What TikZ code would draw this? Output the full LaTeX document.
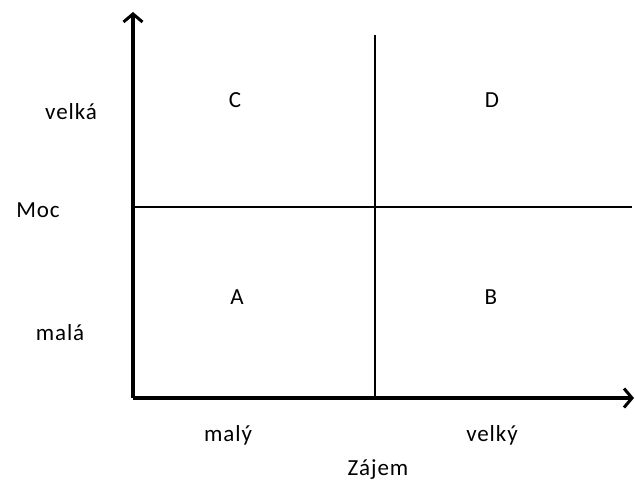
\documentclass[tikz,border=0pt]{standalone}
\usepackage{fontspec}
\setmainfont{Carlito}[LetterSpace=4]
\usetikzlibrary{arrows.meta,positioning}

\begin{document}
\begin{tikzpicture}[
  x=1pt,y=-1pt,
  font=\fontsize{23}{25}\selectfont,
  axis/.style={line width=3.5pt,-{Straight Barb[length=8pt,width=19pt,line width=3pt]}},
  divider/.style={line width=1.5pt},
  lbl/.style={inner sep=0pt,anchor=center},
]
  \useasboundingbox (0,0) rectangle (635,488);

  % axes
  \coordinate (o) at (133,398);
  \coordinate (ytop) at (133,12);
  \coordinate (xend) at (634,398);
  \draw[axis] (o) -- (ytop);
  \draw[axis] (o) -- (xend);

  % quadrant dividers
  \coordinate (vtop) at (375,35);
  \coordinate (vbot) at (375,398);
  \coordinate (hleft) at (133,207);
  \coordinate (hright) at (632,207);
  \draw[divider] (vtop) -- (vbot);
  \draw[divider] (hleft) -- (hright);

  % quadrant labels
  \node[lbl] (qc) at (235,100) {C};
  \node[lbl] (qd) at (492,100) {D};
  \node[lbl] (qa) at (237,297) {A};
  \node[lbl] (qb) at (491,297) {B};

  % power axis
  \node[lbl] (velka) at (71,112) {velká};
  \node[lbl] (moc) at (38,210) {Moc};
  \node[lbl] (mala) at (60,333) {malá};

  % interest axis
  \node[lbl] (maly) at (228,435) {malý};
  \node[lbl] (velky) at (492,435) {velký};
  \node[lbl] (zajem) at (378,470) {Zájem};
\end{tikzpicture}
\end{document}
